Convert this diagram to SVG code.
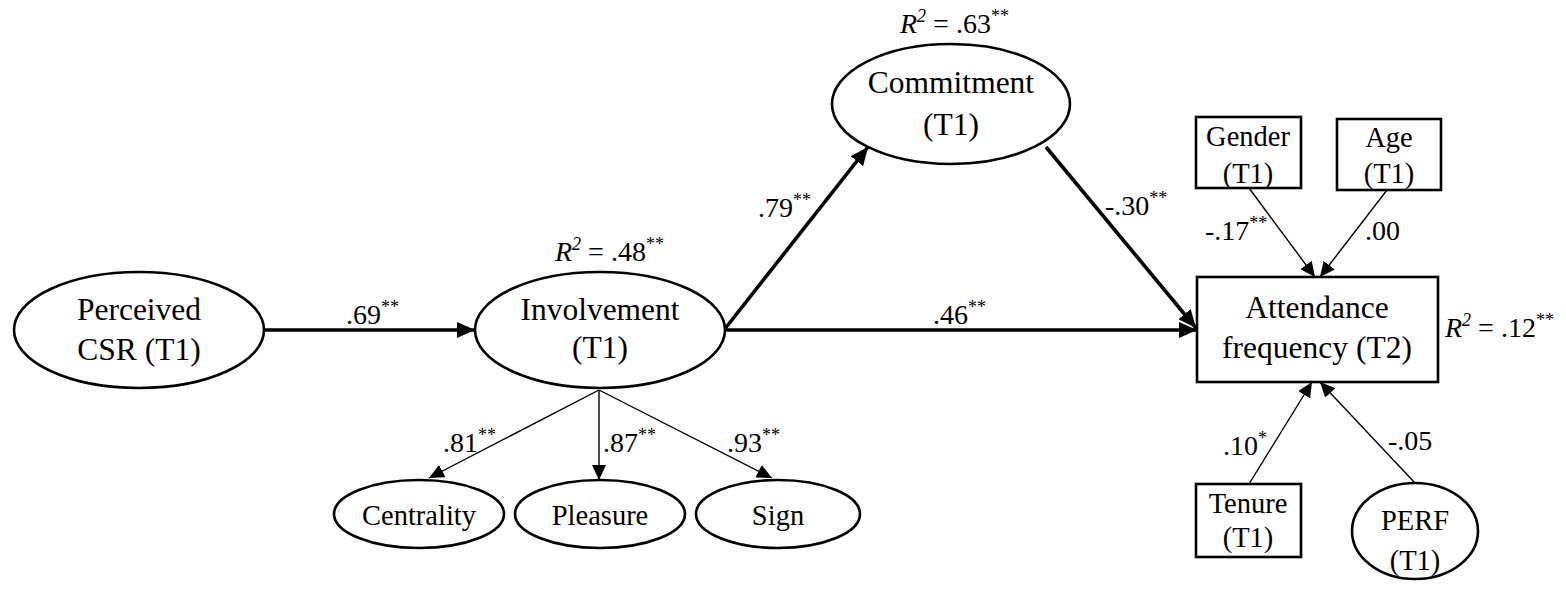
<svg xmlns="http://www.w3.org/2000/svg" width="1566" height="590" viewBox="0 0 1566 590">
<style>
.n{fill:#fff;stroke:#000;stroke-width:2.6}
.t{font-family:"Liberation Serif","Times New Roman",serif;font-size:31.5px;fill:#000;text-anchor:middle}
.s{font-family:"Liberation Serif","Times New Roman",serif;font-size:28.5px;fill:#000;text-anchor:middle}
.l{font-family:"Liberation Serif","Times New Roman",serif;font-size:28px;fill:#000}
.sup{font-size:18px}
.thick{stroke:#000;stroke-width:3.6;fill:none;marker-end:url(#ah)}
.thin{stroke:#000;stroke-width:1.4;fill:none;marker-end:url(#at)}
</style>
<defs>
<marker id="ah" markerUnits="userSpaceOnUse" markerWidth="20" markerHeight="16" refX="18" refY="8" orient="auto"><path d="M0,0 L18,8 L0,16 z" fill="#000"/></marker>
<marker id="at" markerUnits="userSpaceOnUse" markerWidth="16" markerHeight="14" refX="15" refY="7" orient="auto"><path d="M0,0 L15,7 L0,14 z" fill="#000"/></marker>
</defs>
<g id="connectors">
<line class="thick" x1="264" y1="330" x2="475" y2="330"/>
<line class="thick" x1="724" y1="330" x2="1197" y2="330"/>
<line class="thick" x1="724" y1="330" x2="868" y2="147"/>
<line class="thick" x1="1046" y1="147" x2="1196" y2="328"/>
<line class="thin" x1="599" y1="390" x2="429" y2="478"/>
<line class="thin" x1="599" y1="390" x2="599" y2="480"/>
<line class="thin" x1="599" y1="390" x2="772" y2="478"/>
<line class="thin" x1="1249" y1="188" x2="1315" y2="277"/>
<line class="thin" x1="1387" y1="190" x2="1320" y2="277"/>
<line class="thin" x1="1249" y1="484" x2="1312" y2="382"/>
<line class="thin" x1="1415" y1="483" x2="1320" y2="382"/>
<text class="l" x="346" y="324">.69<tspan class="sup" dy="-11">**</tspan></text>
<text class="l" x="933" y="324">.46<tspan class="sup" dy="-11">**</tspan></text>
<text class="l" x="758" y="217">.79<tspan class="sup" dy="-11">**</tspan></text>
<text class="l" x="1105" y="215">-.30<tspan class="sup" dy="-11">**</tspan></text>
<text class="l" x="1205" y="240">-.17<tspan class="sup" dy="-11">**</tspan></text>
<text class="l" x="1365" y="240">.00</text>
<text class="l" x="1223" y="455">.10<tspan class="sup" dy="-11">*</tspan></text>
<text class="l" x="1388" y="450">-.05</text>
<text class="l" x="443" y="452">.81<tspan class="sup" dy="-11">**</tspan></text>
<text class="l" x="603" y="452">.87<tspan class="sup" dy="-11">**</tspan></text>
<text class="l" x="727" y="452">.93<tspan class="sup" dy="-11">**</tspan></text>
</g>
<g id="csr">
<ellipse class="n" cx="139" cy="330" rx="125" ry="58"/>
<text class="t" x="139" y="320">Perceived</text>
<text class="t" x="139" y="360">CSR (T1)</text>
</g>
<g id="involvement">
<ellipse class="n" cx="600" cy="330" rx="125" ry="58"/>
<text class="t" x="600" y="320">Involvement</text>
<text class="t" x="600" y="358">(T1)</text>
<text class="l" x="555" y="261"><tspan font-style="italic">R</tspan><tspan class="sup" font-style="italic" dy="-11">2</tspan><tspan dy="11"> = .48</tspan><tspan class="sup" dy="-11">**</tspan></text>
</g>
<g id="commitment">
<ellipse class="n" cx="951" cy="104" rx="119" ry="60"/>
<text class="t" x="951" y="93">Commitment</text>
<text class="t" x="951" y="135">(T1)</text>
<text class="l" x="900" y="33"><tspan font-style="italic">R</tspan><tspan class="sup" font-style="italic" dy="-11">2</tspan><tspan dy="11"> = .63</tspan><tspan class="sup" dy="-11">**</tspan></text>
</g>
<g id="attendance">
<rect class="n" x="1197" y="277" width="241" height="105"/>
<text class="t" x="1317" y="318">Attendance</text>
<text class="t" x="1317" y="358">frequency (T2)</text>
<text class="l" x="1445" y="337"><tspan font-style="italic">R</tspan><tspan class="sup" font-style="italic" dy="-11">2</tspan><tspan dy="11"> = .12</tspan><tspan class="sup" dy="-11">**</tspan></text>
</g>
<g id="gender">
<rect class="n" x="1196" y="117" width="105" height="71"/>
<text class="s" x="1248" y="146">Gender</text>
<text class="s" x="1248" y="183">(T1)</text>
</g>
<g id="age">
<rect class="n" x="1337" y="119" width="104" height="71"/>
<text class="s" x="1389" y="147">Age</text>
<text class="s" x="1389" y="183">(T1)</text>
</g>
<g id="tenure">
<rect class="n" x="1196" y="484" width="105" height="73"/>
<text class="s" x="1248" y="513">Tenure</text>
<text class="s" x="1248" y="547">(T1)</text>
</g>
<g id="perf">
<ellipse class="n" cx="1415" cy="531" rx="63" ry="48"/>
<text class="s" x="1415" y="530">PERF</text>
<text class="s" x="1415" y="570">(T1)</text>
</g>
<g id="centrality">
<ellipse class="n" cx="419" cy="514" rx="85" ry="34"/>
<text class="s" x="419" y="525">Centrality</text>
</g>
<g id="pleasure">
<ellipse class="n" cx="600" cy="514" rx="85" ry="34"/>
<text class="s" x="600" y="525">Pleasure</text>
</g>
<g id="sign">
<ellipse class="n" cx="778" cy="514" rx="82" ry="34"/>
<text class="s" x="778" y="525">Sign</text>
</g>
</svg>
